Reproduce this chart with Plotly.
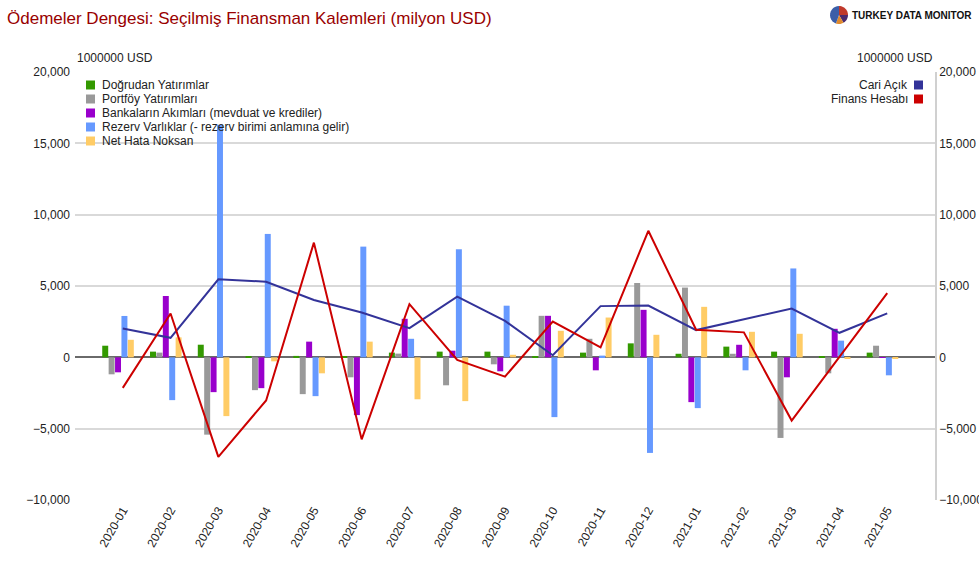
import math
import plotly.graph_objects as go

months = ["2020-01", "2020-02", "2020-03", "2020-04", "2020-05", "2020-06", "2020-07",
          "2020-08", "2020-09", "2020-10", "2020-11", "2020-12", "2021-01", "2021-02",
          "2021-03", "2021-04", "2021-05"]

dogrudan = [815, 400, 885, 30, 100, 40, 330, 400, 400, 50, 330, 980, 250, 750, 400, 30, 330]
portfoy = [-1190, 330, -5420, -2300, -2580, -1400, 260, -1960, -490, 2910, 1300, 5210, 4890, 250, -5650, -1120, 815]
banka = [-1050, 4300, -2440, -2160, 1100, -4050, 2700, 465, -980, 2910, -910, 3330, -3140, 880, -1400, 2000, -30]
rezerv = [2900, -3000, 16300, 8650, -2720, 7760, 1300, 7575, 3620, -4190, 120, -6700, -3560, -910, 6230, 1170, -1260]
net_hata = [1230, 1400, -4120, -280, -1120, 1100, -2940, -3070, 180, 1860, 2790, 1580, 3540, 1790, 1650, -100, -80]
cari_acik = [2020, 1370, 5470, 5300, 4020, 3140, 2050, 4260, 2550, 150, 3590, 3630, 1910, 2680, 3420, 1720, 3080]
finans = [-2140, 3070, -6980, -3020, 8040, -5750, 3730, -185, -1350, 2510, 700, 8870, 1930, 1750, -4430, 50, 4500]

bar_names = ["Doğrudan Yatırımlar", "Portföy Yatırımları",
             "Bankaların Akımları (mevduat ve krediler)",
             "Rezerv Varlıklar (- rezerv birimi anlamına gelir)", "Net Hata Noksan"]
bar_colors = ["#339900", "#999999", "#9900cc", "#6699ff", "#ffcc66"]
bar_data = [dogrudan, portfoy, banka, rezerv, net_hata]
line_names = ["Cari Açık", "Finans Hesabı"]
line_colors = ["#333399", "#cc0000"]
line_data = [cari_acik, finans]

W, H = 979, 570
L, R, T, B = 75, 935, 72, 500

def px(x):
    return (x - L) / (R - L)

def py(y):
    return (B - y) / (B - T)

fig = go.Figure()
offsets = [-0.43, -0.296, -0.162, -0.028, 0.106]
for name, color, vals, off in zip(bar_names, bar_colors, bar_data, offsets):
    fig.add_trace(go.Bar(x=months, y=vals, name=name, marker_color=color,
                         marker_line_width=0, width=0.125, offset=off,
                         showlegend=False))
for name, color, vals in zip(line_names, line_colors, line_data):
    fig.add_trace(go.Scatter(x=months, y=vals, name=name, mode="lines",
                             line=dict(color=color, width=2), yaxis="y2",
                             showlegend=False))

font = "Liberation Sans, Arial, sans-serif"
tickvals = [-10000, -5000, 0, 5000, 10000, 15000, 20000]
fig.update_layout(
    width=W, height=H,
    margin=dict(l=L, r=W - R, t=T, b=H - B),
    paper_bgcolor="white", plot_bgcolor="white",
    barmode="overlay",
    font=dict(family=font, size=12, color="#222222"),
    title=dict(text="Ödemeler Dengesi: Seçilmiş Finansman Kalemleri (milyon USD)",
               x=7 / W, xref="container", xanchor="left",
               y=1 - 18 / H, yref="container", yanchor="middle",
               font=dict(family=font, size=17, color="#990000")),
    xaxis=dict(type="category", range=[-1, 17], tickangle=-60,
               tickfont=dict(size=12, color="#222222"), showgrid=False,
               showline=False, ticks="", automargin=False),
    yaxis=dict(range=[-10000, 20000], tickvals=tickvals, tickformat=",",
               showgrid=True, gridcolor="#d9d9d9", gridwidth=1.5,
               zeroline=True, zerolinecolor="#6a6a6a", zerolinewidth=2,
               tickfont=dict(size=12, color="#222222"), ticks="",
               ticklabelstandoff=4, automargin=False),
    yaxis2=dict(range=[-10000, 20000], tickvals=tickvals, tickformat=",",
                overlaying="y", side="right", showgrid=False, zeroline=False,
                showline=True, linecolor="#d0d0d0", linewidth=1.5,
                tickfont=dict(size=12, color="#222222"), ticks="",
                automargin=False),
)

ann = []
shapes = []
# axis unit titles
ann.append(dict(text="1000000 USD", x=px(75), y=py(58), xref="paper", yref="paper",
                xanchor="left", yanchor="middle", showarrow=False,
                font=dict(size=12, color="#222222")))
ann.append(dict(text="1000000 USD", x=px(935), y=py(58), xref="paper", yref="paper",
                xanchor="right", yanchor="middle", showarrow=False,
                font=dict(size=12, color="#222222")))

# left legend (bars)
for i, (name, color) in enumerate(zip(bar_names, bar_colors)):
    cy = 85 + i * 14
    shapes.append(dict(type="rect", xref="paper", yref="paper",
                       x0=px(86), x1=px(95), y0=py(cy - 4.5), y1=py(cy + 4.5),
                       fillcolor=color, line=dict(width=0), layer="above"))
    ann.append(dict(text=name, x=px(100), y=py(cy), xref="paper", yref="paper",
                    xanchor="left", yanchor="middle", showarrow=False,
                    font=dict(size=12, color="#222222")))

# right legend (lines)
for i, (name, color) in enumerate(zip(line_names, line_colors)):
    cy = 85 + i * 14
    shapes.append(dict(type="rect", xref="paper", yref="paper",
                       x0=px(914), x1=px(923), y0=py(cy - 4.5), y1=py(cy + 4.5),
                       fillcolor=color, line=dict(width=0), layer="above"))
    ann.append(dict(text=name, x=px(910), y=py(cy), xref="paper", yref="paper",
                    xanchor="right", yanchor="middle", showarrow=False,
                    font=dict(size=12, color="#222222")))

# logo
ann.append(dict(text="<b>TURKEY DATA MONITOR</b>", x=px(850), y=py(15), xref="paper",
                yref="paper", xanchor="left", yanchor="middle", showarrow=False,
                font=dict(family=font, size=10, color="#111111")))
cx, cyl, r = 839, 15, 9
wedges = [(-90, 0, "#c0392b"), (0, 60, "#4a2a6e"), (60, 110, "#e08a2e"), (110, 270, "#3b5ea8")]
for a0, a1, col in wedges:
    pts = [(cx, cyl)]
    for k in range(13):
        a = math.radians(a0 + (a1 - a0) * k / 12)
        pts.append((cx + r * math.cos(a), cyl + r * math.sin(a)))
    path = "M " + " L ".join(f"{px(x):.5f},{py(y):.5f}" for x, y in pts) + " Z"
    shapes.append(dict(type="path", xref="paper", yref="paper", path=path,
                       fillcolor=col, line=dict(width=0)))

fig.update_layout(annotations=ann, shapes=shapes)
fig.write_html("out.html", config={"displayModeBar": False},
               post_script="document.body.style.margin='0';document.body.style.overflow='hidden';")
